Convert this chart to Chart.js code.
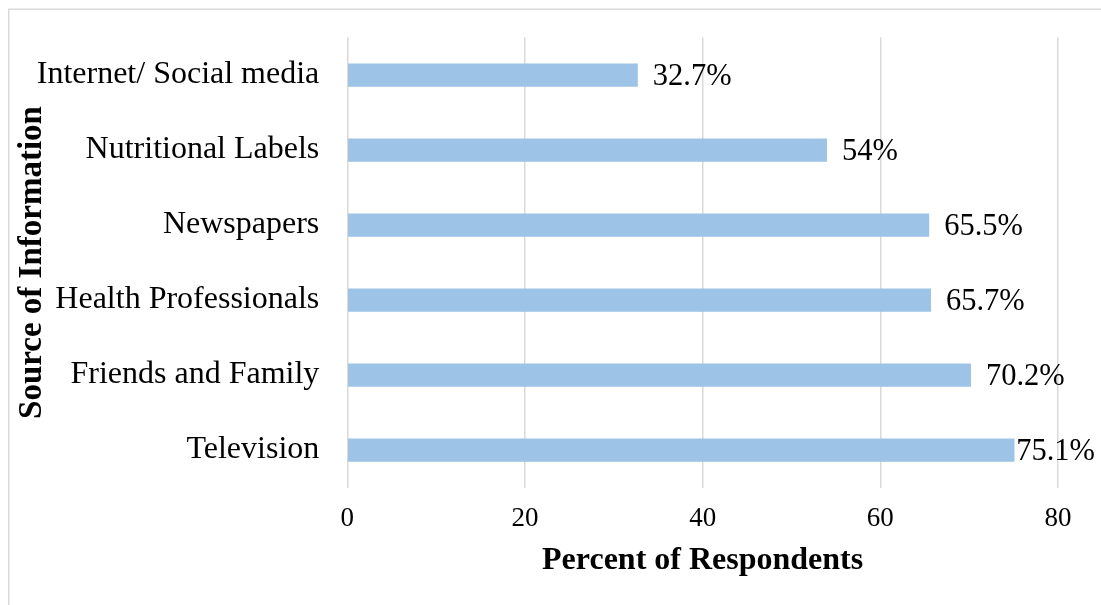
<!DOCTYPE html>
<html>
<head>
<meta charset="utf-8">
<script src="https://cdn.jsdelivr.net/npm/chart.js@4/dist/chart.umd.min.js"></script>
<style>
  html, body { margin: 0; padding: 0; background: #fff; }
  #wrap { width: 1101px; height: 605px; position: relative; }
</style>
</head>
<body>
<div id="wrap"><canvas id="chart"></canvas></div>
<script>
// --- Data ---
const sources = ['Internet/ Social media', 'Nutritional Labels', 'Newspapers',
                 'Health Professionals', 'Friends and Family', 'Television'];
const percents = [32.7, 54, 65.5, 65.7, 70.2, 75.1];
const valueLabels = ['32.7%', '54%', '65.5%', '65.7%', '70.2%', '75.1%'];
const xTicks = [0, 20, 40, 60, 80];

const SERIF = '"Liberation Serif", "Times New Roman", serif';
const GRID = '#d9d9d9';

// light grey frame round the whole chart
const framePlugin = {
    id: 'frame',
    beforeDraw(chart) {
        const ctx = chart.ctx;
        ctx.save();
        ctx.strokeStyle = GRID;
        ctx.lineWidth = 1.5;
        ctx.strokeRect(8.75, 9.25, chart.width + 20, chart.height + 20);
        ctx.restore();
    }
};

// value labels just past the end of each bar, kept inside the canvas
const valueLabelPlugin = {
    id: 'valueLabels',
    afterDatasetsDraw(chart) {
        const ctx = chart.ctx;
        const meta = chart.getDatasetMeta(0);
        ctx.save();
        ctx.font = '30.5px ' + SERIF;
        ctx.fillStyle = '#000';
        ctx.textBaseline = 'middle';
        ctx.textAlign = 'left';
        meta.data.forEach((bar, i) => {
            const text = valueLabels[i];
            const w = ctx.measureText(text).width;
            let x = bar.x + 15;
            if (x + w > chart.width - 6) x = chart.width - 6 - w;
            ctx.fillText(text, x, bar.y + 1.5);
        });
        ctx.restore();
    }
};

new Chart(document.getElementById('chart'), {
    type: 'bar',
    data: {
        labels: sources,
        datasets: [{
            data: percents,
            backgroundColor: '#9dc3e6',
            borderWidth: 0,
            categoryPercentage: 1,
            barPercentage: 0.31
        }]
    },
    options: {
        indexAxis: 'y',
        responsive: true,
        maintainAspectRatio: false,
        animation: false,
        layout: { padding: { left: 0, top: 37.5, right: 43, bottom: 0 } },
        plugins: { legend: { display: false }, tooltip: { enabled: false } },
        scales: {
            x: {
                min: 0,
                max: 80,
                afterBuildTicks: (scale) => { scale.ticks = xTicks.map(v => ({ value: v })); },
                afterFit: (scale) => { scale.height = 117.5; },
                grid: { color: GRID, lineWidth: 1.5, drawTicks: false },
                border: { display: false },
                ticks: {
                    padding: 15,
                    color: '#000',
                    font: { family: SERIF, size: 27 }
                },
                title: {
                    display: true,
                    text: 'Percent of Respondents',
                    color: '#000',
                    font: { family: SERIF, size: 32, weight: 'bold' },
                    padding: { top: 0, bottom: 25 }
                }
            },
            y: {
                afterFit: (scale) => {
                    scale.width = 347.3;
                    scale.paddingTop = 0;
                    scale.paddingBottom = 0;
                },
                grid: { display: false, drawTicks: false },
                border: { display: false },
                ticks: {
                    padding: 28,
                    color: '#000',
                    font: { family: SERIF, size: 32 }
                },
                title: {
                    display: true,
                    text: 'Source of Information',
                    color: '#000',
                    font: { family: SERIF, size: 33, weight: 'bold' },
                    padding: { top: 12.5, bottom: 0 }
                }
            }
        }
    },
    plugins: [framePlugin, valueLabelPlugin]
});
</script>
</body>
</html>
